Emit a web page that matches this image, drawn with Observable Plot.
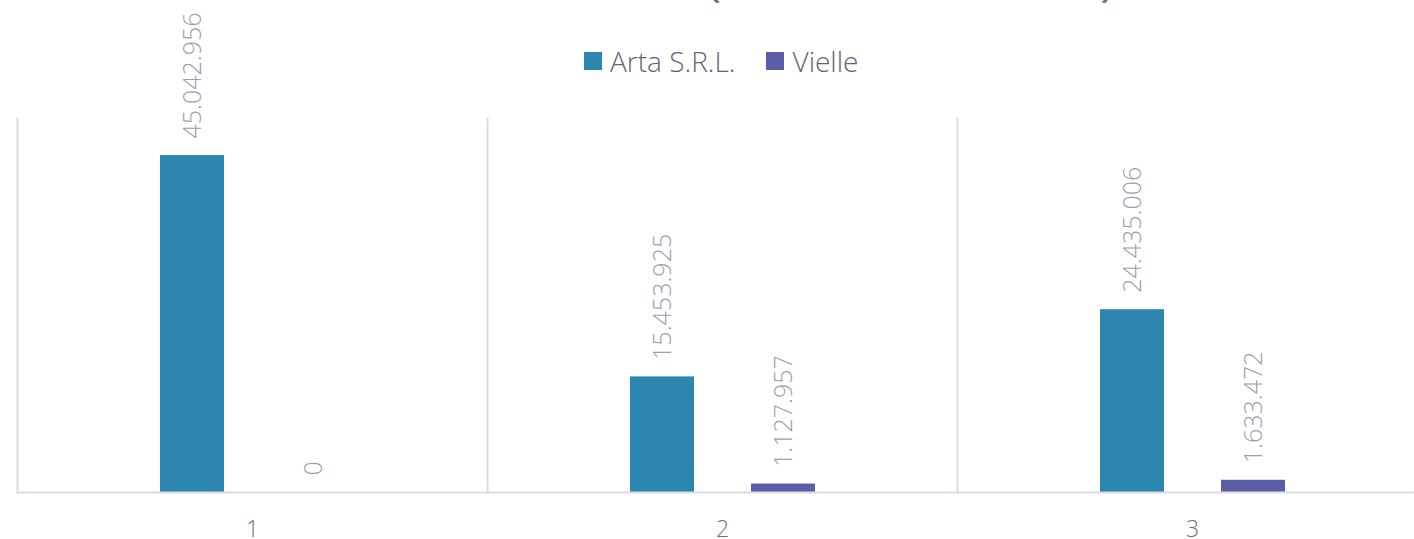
<!DOCTYPE html>
<html>
<head>
<meta charset="utf-8">
<script src="https://cdn.jsdelivr.net/npm/d3@7"></script>
<script src="https://cdn.jsdelivr.net/npm/@observablehq/plot@0.6"></script>
<style>
  html, body { margin: 0; padding: 0; background: #fff; overflow: hidden; width: 1414px; height: 539px; }
  #wrap { position: relative; width: 1430px; height: 539px; font-family: "Open Sans", "Noto Sans", sans-serif; }
  #title { position: absolute; top: -38px; left: 0; width: 1436px; text-align: center; font-size: 40px; line-height: 40px; font-weight: 600; color: #6b7085; letter-spacing: 2px; white-space: nowrap; }
  #legend { position: absolute; top: 42px; left: 584px; display: flex; align-items: center; font-size: 28px; font-weight: 300; color: #5f6579; white-space: nowrap; }
  #legend .sw { display: inline-block; width: 18px; height: 18px; margin-right: 8px; }
  #legend .item { display: flex; align-items: center; margin-right: 31px; }
  #chart { position: absolute; top: 0; left: 0; }
</style>
</head>
<body>
<div id="wrap">
  <div id="title">CIFRA DE AFACERI (2019 - 2020 - 2021)</div>
  <div id="legend"></div>
  <div id="chart"></div>
</div>
<script>
const categories = ["1", "2", "3"];
const seriesNames = ["Arta S.R.L.", "Vielle"];
const seriesColors = ["#2d86b0", "#5d5ca6"];
const artaValues = [45042956, 15453925, 24435006];
const vielleValues = [0, 1127957, 1633472];

const fmt = d3.formatLocale({decimal: ",", thousands: ".", grouping: [3], currency: ["", ""]}).format(",");

const data = [];
categories.forEach((c, i) => {
  data.push({cat: c, series: seriesNames[0], value: artaValues[i]});
  data.push({cat: c, series: seriesNames[1], value: vielleValues[i]});
});

const legend = document.getElementById("legend");
seriesNames.forEach((s, i) => {
  const item = document.createElement("span");
  item.className = "item";
  const sw = document.createElement("span");
  sw.className = "sw";
  sw.style.background = seriesColors[i];
  item.appendChild(sw);
  item.appendChild(document.createTextNode(s));
  legend.appendChild(item);
});

const gridColor = "#dcdce3";

const chart = Plot.plot({
  width: 1430,
  height: 539,
  marginTop: 118,
  marginBottom: 47,
  marginLeft: 17,
  marginRight: 3,
  style: {fontFamily: "'Open Sans', 'Noto Sans', sans-serif", background: "transparent"},
  fx: {domain: categories, padding: 0, label: null},
  x: {domain: seriesNames, paddingInner: 0.475, paddingOuter: 1.164, axis: null},
  y: {domain: [0, 50000000], axis: null},
  color: {domain: seriesNames, range: seriesColors},
  marks: [
    Plot.frame({anchor: "left", stroke: gridColor, strokeWidth: 2}),
    Plot.barY(data, {fx: "cat", x: "series", y: "value", fill: "series"}),
    Plot.ruleY([0], {stroke: gridColor, strokeWidth: 2}),
    Plot.text(data, {
      fx: "cat", x: "series", y: "value",
      text: d => fmt(d.value),
      rotate: -90, textAnchor: "start", dy: -17,
      fontSize: 25, fontWeight: 300, fill: "#9aa0b2"
    }),
    Plot.axisFx({anchor: "bottom", tickSize: 0, tickPadding: 28, fontSize: 23, fontWeight: 300, color: "#6b7085", label: null})
  ]
});
document.getElementById("chart").appendChild(chart);
</script>
</body>
</html>
